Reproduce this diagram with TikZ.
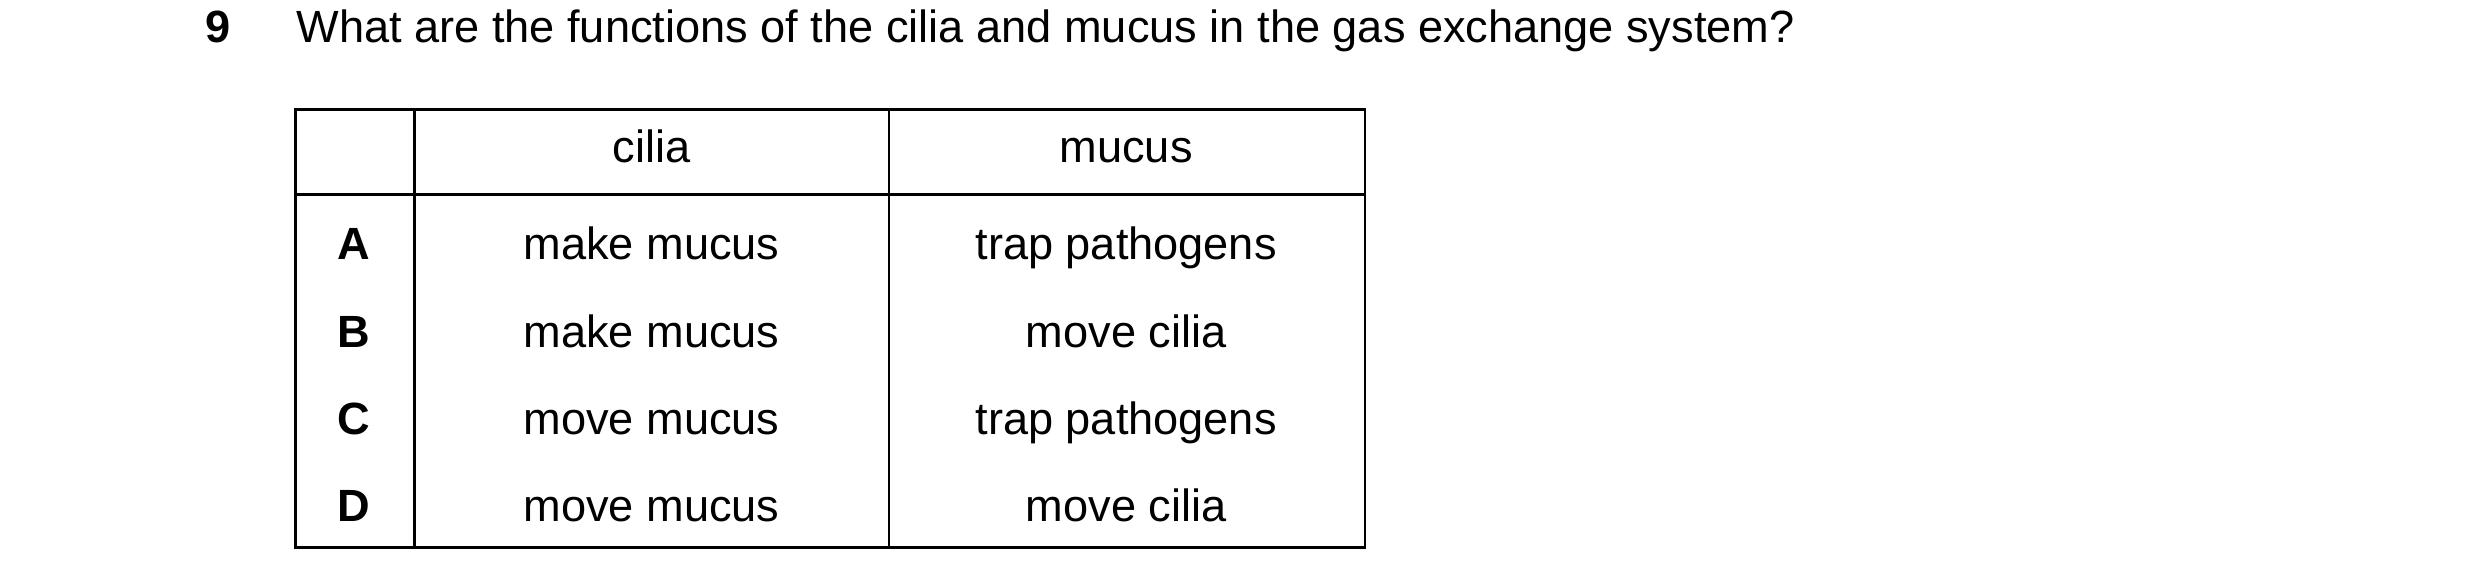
\documentclass[tikz,border=0pt]{standalone}
\usepackage{fontspec}
\setmainfont{Liberation Sans}
\begin{document}
\begin{tikzpicture}[x=0.016cm,y=-0.016cm,
  cell/.style={font=\fontsize{13}{15}\selectfont,text height=1.6ex,text depth=0.4ex,inner sep=0pt},
  key/.style={cell,font=\fontsize{13}{15}\selectfont\bfseries}]
\useasboundingbox (0,0) rectangle (1568,371);
\node[key] (num) at (138,20) {9};
\node[cell,anchor=west] (question) at (187,20) {What are the functions of the cilia and mucus in the gas exchange system?};
% table frame
\draw[line width=0.8pt] (187,69) rectangle (863,346);
\draw[line width=0.8pt] (187,123) -- (863,123);
\draw[line width=0.8pt] (262,69) -- (262,346);
\draw[line width=0.8pt] (562,69) -- (562,346);
\node[cell] (hcilia) at (412,96) {cilia};
\node[cell] (hmucus) at (712,96) {mucus};
\foreach \k/\y/\c/\m in {A/157/make mucus/trap pathogens,
                         B/213/make mucus/move cilia,
                         C/268/move mucus/trap pathogens,
                         D/323/move mucus/move cilia}{
  \node[key] (key\k) at (224,\y) {\k};
  \node[cell] (cilia\k) at (412,\y) {\c};
  \node[cell] (mucus\k) at (712,\y) {\m};
}
\end{tikzpicture}
\end{document}
